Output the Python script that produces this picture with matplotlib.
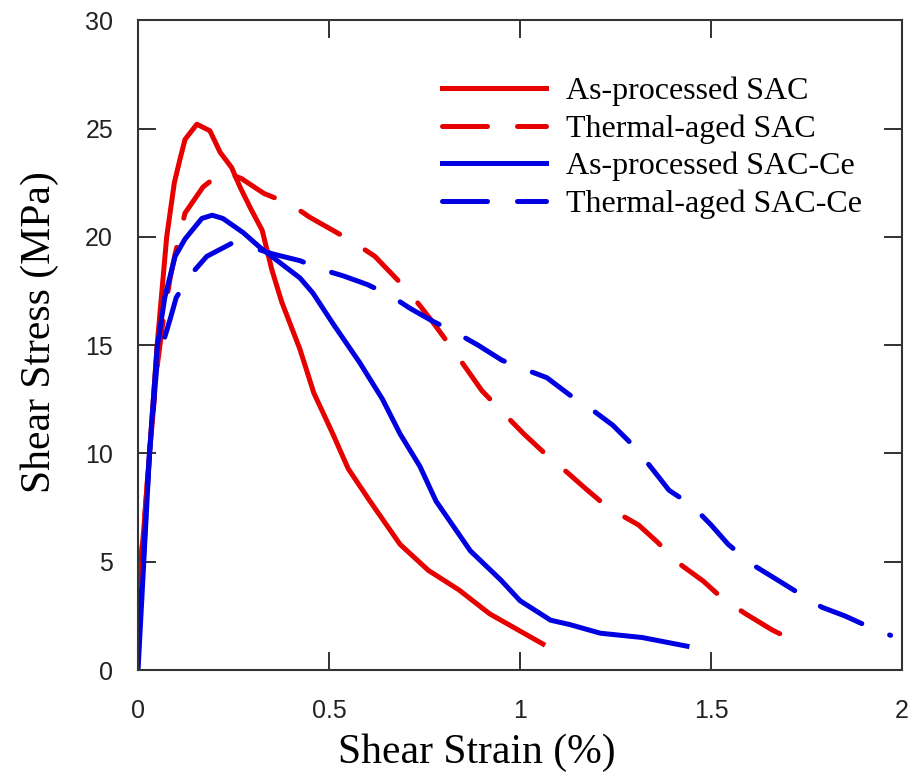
import matplotlib
matplotlib.use('Agg')
import matplotlib.pyplot as plt

# As-processed SAC (red solid)
sac_x = [0, 0.015, 0.03, 0.05, 0.075, 0.095, 0.11, 0.123, 0.154, 0.188, 0.215,
         0.245, 0.267, 0.295, 0.325, 0.35, 0.376, 0.40, 0.424, 0.46, 0.51, 0.55,
         0.607, 0.686, 0.76, 0.84, 0.92, 1.0, 1.06]
sac_y = [3.5, 6.5, 10, 15, 20, 22.5, 23.6, 24.5, 25.2, 24.9, 23.9,
         23.2, 22.3, 21.3, 20.3, 18.5, 17.0, 15.9, 14.8, 12.8, 10.9, 9.3,
         7.8, 5.8, 4.6, 3.7, 2.6, 1.8, 1.2]

# Thermal-aged SAC (red dashed)
sac_aged_x = [0, 0.015, 0.03, 0.05, 0.063, 0.084, 0.097, 0.123, 0.17, 0.22,
              0.27, 0.33, 0.40, 0.45, 0.51, 0.56, 0.62, 0.68, 0.73, 0.77, 0.82,
              0.86, 0.90, 0.96, 1.01, 1.065, 1.125, 1.17, 1.21, 1.26, 1.31,
              1.36, 1.41, 1.48, 1.53, 1.59, 1.66, 1.70, 1.74]
sac_aged_y = [3.7, 6.5, 10, 14, 15.8, 18.1, 19.2, 21.1, 22.3, 23.0,
              22.7, 22.0, 21.5, 20.9, 20.3, 19.8, 19.1, 18.0, 17.0, 16.1, 14.9,
              13.9, 12.9, 11.8, 10.9, 10.0, 9.1, 8.4, 7.8, 7.2, 6.7,
              5.9, 5.0, 4.1, 3.3, 2.6, 1.85, 1.5, 1.06]

# As-processed SAC-Ce (blue solid)
ce_x = [0, 0.015, 0.03, 0.05, 0.07, 0.097, 0.123, 0.167, 0.194, 0.222, 0.275,
        0.32, 0.372, 0.424, 0.458, 0.51, 0.58, 0.64, 0.686, 0.738, 0.78, 0.87,
        0.95, 1.0, 1.08, 1.13, 1.21, 1.32, 1.437]
ce_y = [0, 5, 10, 14.9, 17.2, 19.1, 19.9, 20.85, 21.0, 20.85, 20.2,
        19.5, 18.8, 18.1, 17.4, 16.0, 14.2, 12.5, 10.9, 9.4, 7.8, 5.5,
        4.15, 3.2, 2.3, 2.1, 1.7, 1.5, 1.1]

# Thermal-aged SAC-Ce (blue dashed)
ce_aged_x = [0, 0.015, 0.03, 0.05, 0.084, 0.10, 0.14, 0.18, 0.245, 0.30, 0.355,
             0.424, 0.48, 0.537, 0.60, 0.66, 0.712, 0.772, 0.83, 0.89, 0.953,
             1.01, 1.07, 1.13, 1.19, 1.243, 1.30, 1.35, 1.39, 1.45, 1.50,
             1.545, 1.61, 1.67, 1.725, 1.79, 1.85, 1.90, 1.97]
ce_aged_y = [1.6, 5.5, 10, 14.2, 16.2, 17.2, 18.3, 19.1, 19.7, 19.5, 19.2,
             18.9, 18.5, 18.2, 17.8, 17.3, 16.7, 16.1, 15.6, 15.0, 14.3,
             13.9, 13.5, 12.7, 12.0, 11.3, 10.3, 9.2, 8.3, 7.6, 6.7,
             5.8, 4.85, 4.2, 3.6, 2.9, 2.5, 2.1, 1.6]

labels = ['As-processed SAC', 'Thermal-aged SAC',
          'As-processed SAC-Ce', 'Thermal-aged SAC-Ce']

red = '#e60000'
blue = '#0000e0'
dash = (0, (9, 6))
lw = 3.6

fig = plt.figure(figsize=(9.13, 7.80), dpi=100)
ax = fig.add_axes([0.1512, 0.141, 0.8368, 0.833])

ax.plot(sac_x, sac_y, color=red, lw=lw, label=labels[0])
ax.plot(sac_aged_x, sac_aged_y, color=red, lw=lw, linestyle=dash,
        dash_capstyle='round', label=labels[1])
ax.plot(ce_x, ce_y, color=blue, lw=lw, label=labels[2])
ax.plot(ce_aged_x, ce_aged_y, color=blue, lw=lw, linestyle=dash,
        dash_capstyle='round', label=labels[3])

ax.set_xlim(0, 2)
ax.set_ylim(0, 30)
ax.set_xticks([0, 0.5, 1, 1.5, 2])
ax.set_xticklabels(['0', '0.5', '1', '1.5', '2'])
ax.set_yticks([0, 5, 10, 15, 20, 25, 30])

ax.tick_params(direction='in', length=13, width=1.3, top=True, right=True,
               labelsize=18, colors='#222222')
ax.tick_params(axis='x', pad=21)
ax.tick_params(axis='y', pad=18)
for lab in ax.get_xticklabels() + ax.get_yticklabels():
    lab.set_family('Liberation Sans')
for s in ax.spines.values():
    s.set_linewidth(1.5)
    s.set_color('#333333')

# labels sit a bit off-centre in the original
ax.set_xlabel('Shear Strain (%)', family='Liberation Serif', fontsize=30)
ax.set_ylabel('Shear Stress (MPa)', family='Liberation Serif', fontsize=30)
ax.xaxis.set_label_coords(0.444, -0.098)
ax.yaxis.set_label_coords(-0.104, 0.52)

leg = ax.legend(loc='upper right', bbox_to_anchor=(862 / 913, 1 - 77 / 780),
                bbox_transform=fig.transFigure, frameon=False,
                borderpad=0, borderaxespad=0,
                prop={'family': 'Liberation Serif', 'size': 23},
                handlelength=3.25, handletextpad=0.63, labelspacing=0.25)

fig.savefig('out.png', dpi=100)
